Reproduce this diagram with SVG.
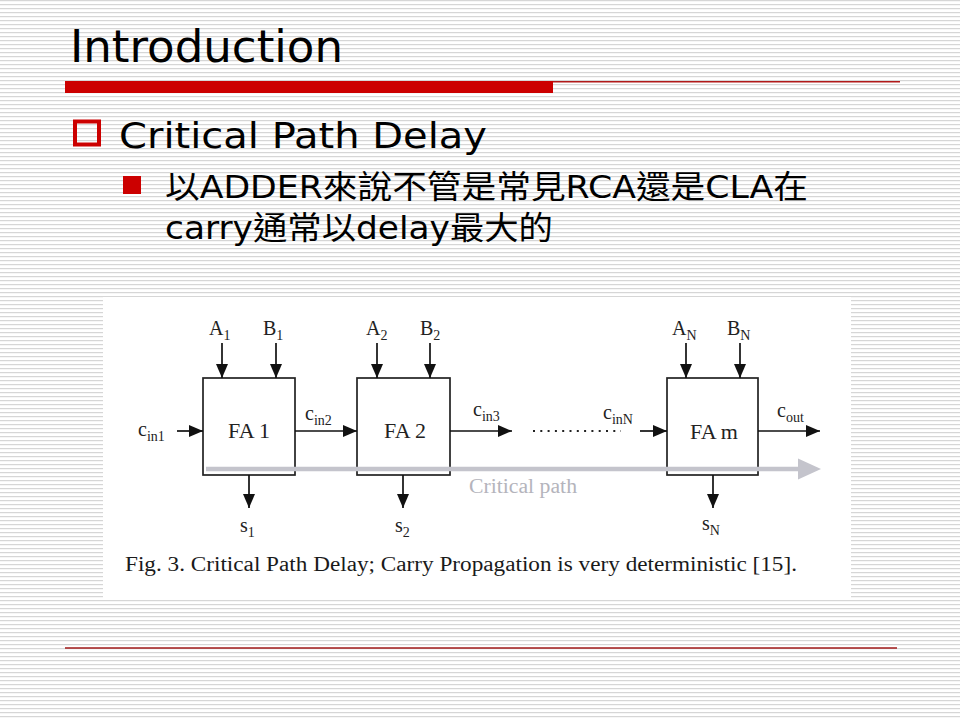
<svg xmlns="http://www.w3.org/2000/svg" width="960" height="720" viewBox="0 0 960 720">
  <defs>
    <pattern id="stripes" x="0" y="0" width="8" height="4" patternUnits="userSpaceOnUse">
      <rect x="0" y="0" width="8" height="4" fill="#ffffff"/>
      <rect x="0" y="0" width="8" height="1.2" fill="#d6d6d6"/>
    </pattern>
    <marker id="ah" markerWidth="14" markerHeight="12" refX="14" refY="6" orient="auto" markerUnits="userSpaceOnUse">
      <path d="M0,0 L14,6 L0,12 Z" fill="#111"/>
    </marker>
    <style>
      .slide { font-family: "DejaVu Sans", "Noto Sans CJK TC", sans-serif; fill: #000; }
      .ser { font-family: "Liberation Serif", "Times New Roman", serif; fill: #222; }
      .lbl { font-size: 20px; }
      .sub { font-size: 14px; }
      .box { fill: #ffffff; stroke: #222; stroke-width: 1.7; }
      .wire { stroke: #111; stroke-width: 1.7; fill: none; marker-end: url(#ah); }
      .fa { font-size: 22px; text-anchor: middle; }
    </style>
  </defs>

  <!-- background -->
  <rect x="0" y="0" width="960" height="720" fill="url(#stripes)"/>

  <!-- title -->
  <text class="slide" x="70" y="62" font-size="44" textLength="273" lengthAdjust="spacingAndGlyphs">Introduction</text>
  <rect x="65" y="81" width="488" height="12" fill="#cc0000"/>
  <line x1="553" y1="81.7" x2="900" y2="81.7" stroke="#b01818" stroke-width="1.5"/>

  <!-- bullets -->
  <rect x="75" y="121.5" width="24" height="23" fill="none" stroke="#cc0000" stroke-width="4"/>
  <text class="slide" x="119" y="148" font-size="36" textLength="368" lengthAdjust="spacingAndGlyphs">Critical Path Delay</text>
  <rect x="123" y="176" width="18" height="18" fill="#cc0000"/>
  <text class="slide" x="165" y="198" font-size="32" textLength="643" lengthAdjust="spacingAndGlyphs">以ADDER來說不管是常見RCA還是CLA在</text>
  <text class="slide" x="165" y="239" font-size="32" textLength="388" lengthAdjust="spacingAndGlyphs">carry通常以delay最大的</text>

  <!-- figure background -->
  <rect x="103" y="297" width="748" height="303" fill="#ffffff"/>

  <!-- nodes -->
  <g id="fa1">
    <rect class="box" x="203" y="378" width="92" height="97"/>
    <text class="ser fa" x="249" y="438">FA 1</text>
  </g>
  <g id="fa2">
    <rect class="box" x="357" y="378" width="93" height="97"/>
    <text class="ser fa" x="405" y="438">FA 2</text>
  </g>
  <g id="fam">
    <rect class="box" x="667" y="378" width="91" height="97"/>
    <text class="ser fa" x="714" y="439">FA m</text>
  </g>

  <!-- connectors -->
  <g id="connectors">
    <line class="wire" x1="222" y1="343" x2="222" y2="378"/>
    <line class="wire" x1="276" y1="343" x2="276" y2="378"/>
    <line class="wire" x1="377" y1="343" x2="377" y2="378"/>
    <line class="wire" x1="430" y1="343" x2="430" y2="378"/>
    <line class="wire" x1="686" y1="343" x2="686" y2="378"/>
    <line class="wire" x1="740" y1="343" x2="740" y2="378"/>

    <line class="wire" x1="177" y1="431" x2="203" y2="431"/>
    <line class="wire" x1="295" y1="431" x2="357" y2="431"/>
    <line class="wire" x1="450" y1="431" x2="512" y2="431"/>
    <line x1="533" y1="431" x2="621" y2="431" stroke="#222" stroke-width="2" stroke-dasharray="2 5.3"/>
    <line class="wire" x1="640" y1="431" x2="667" y2="431"/>
    <line class="wire" x1="758" y1="431" x2="820" y2="431"/>

    <line class="wire" x1="249" y1="475" x2="249" y2="508"/>
    <line class="wire" x1="403" y1="475" x2="403" y2="508"/>
    <line class="wire" x1="713" y1="475" x2="713" y2="508"/>

    <!-- critical path -->
    <line x1="206" y1="469" x2="800" y2="469" stroke="#c4c4cc" stroke-width="4.5"/>
    <path d="M798,458.5 L821,469 L798,479.5 Z" fill="#c4c4cc"/>
  </g>

  <!-- labels -->
  <g id="labels" class="ser">
    <text class="lbl" x="209" y="335">A<tspan class="sub" dy="5">1</tspan></text>
    <text class="lbl" x="263" y="335">B<tspan class="sub" dy="5">1</tspan></text>
    <text class="lbl" x="366" y="335">A<tspan class="sub" dy="5">2</tspan></text>
    <text class="lbl" x="420" y="335">B<tspan class="sub" dy="5">2</tspan></text>
    <text class="lbl" x="672" y="335">A<tspan class="sub" dy="5">N</tspan></text>
    <text class="lbl" x="727" y="335">B<tspan class="sub" dy="5">N</tspan></text>

    <text class="lbl" x="138" y="436">c<tspan class="sub" dy="5">in1</tspan></text>
    <text class="lbl" x="305" y="420">c<tspan class="sub" dy="5">in2</tspan></text>
    <text class="lbl" x="473" y="416">c<tspan class="sub" dy="5">in3</tspan></text>
    <text class="lbl" x="603" y="419">c<tspan class="sub" dy="5">inN</tspan></text>
    <text class="lbl" x="777" y="417">c<tspan class="sub" dy="5">out</tspan></text>

    <text class="lbl" x="240" y="532">s<tspan class="sub" dy="5">1</tspan></text>
    <text class="lbl" x="395" y="532">s<tspan class="sub" dy="5">2</tspan></text>
    <text class="lbl" x="702" y="530">s<tspan class="sub" dy="5">N</tspan></text>

    <text x="469" y="493" font-size="20" style="fill:#b4b4bc" textLength="108" lengthAdjust="spacingAndGlyphs">Critical path</text>

    <text x="125" y="571" font-size="20" textLength="672" lengthAdjust="spacingAndGlyphs" style="fill:#1a1a1a">Fig. 3. Critical Path Delay; Carry Propagation is very deterministic [15].</text>
  </g>

  <!-- footer line -->
  <line x1="65" y1="648" x2="897" y2="648" stroke="#a01818" stroke-width="1.3"/>
</svg>
